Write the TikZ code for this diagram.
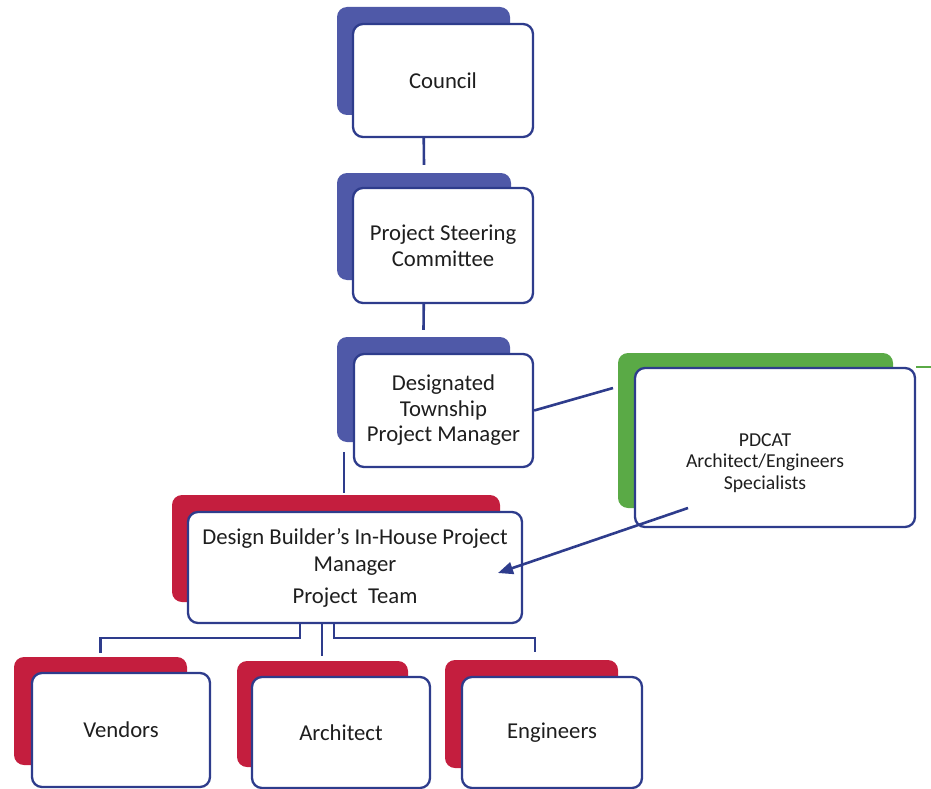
\documentclass[tikz,border=0pt]{standalone}
\usepackage{fontspec}
\setmainfont{Carlito}
\usetikzlibrary{arrows.meta}
\definecolor{bblue}{HTML}{4F59A8}
\definecolor{bred}{HTML}{C41E3E}
\definecolor{bgreen}{HTML}{5AAA46}
\definecolor{navy}{HTML}{2E3C8C}
\definecolor{txt}{HTML}{1E1E1E}
\tikzset{
  backbox/.style={rounded corners=10pt, inner sep=0pt, draw=none},
  frontbox/.style={draw=navy, fill=white, line width=2.3pt, rounded corners=10pt,
    inner sep=0pt, align=center, text=txt, font=\fontsize{22.7}{26}\selectfont},
  conn/.style={draw=navy, line width=2.6pt},
}
\begin{document}
\begin{tikzpicture}[x=1pt,y=-1pt]
\useasboundingbox (0,0) rectangle (931,789);
% back boxes
\node[backbox, fill=bblue, minimum width=173pt, minimum height=108pt] (cb) at (423.5,61) {};
\node[backbox, fill=bblue, minimum width=174pt, minimum height=107pt] (sb) at (424,226.5) {};
\node[backbox, fill=bblue, minimum width=173pt, minimum height=105pt] (tb) at (423.5,389.5) {};
\node[backbox, fill=bgreen, minimum width=275pt, minimum height=155pt] (pb) at (755.5,430.5) {};
\node[backbox, fill=bred, minimum width=328pt, minimum height=107pt] (db) at (336,548.5) {};
\node[backbox, fill=bred, minimum width=173pt, minimum height=108pt] (vb) at (100.5,711) {};
\node[backbox, fill=bred, minimum width=171pt, minimum height=106pt] (ab) at (322.5,714) {};
\node[backbox, fill=bred, minimum width=173pt, minimum height=108pt] (eb) at (531.5,714) {};
% connectors behind the front boxes
\draw[conn] (cb.south) -- ([yshift=8pt]sb.north);
\draw[conn] (sb.south) -- ([yshift=7pt]tb.north);
\draw[conn] ([xshift=7pt,yshift=-10pt]tb.south west) -- ([xshift=7pt,yshift=2pt]tb.south west |- db.north);
% front boxes
\node[frontbox, minimum width=180pt, minimum height=113pt] (cf) at (443,80.5) {Council};
\node[frontbox, minimum width=180pt, minimum height=115pt] (sf) at (443,245.5) {Project Steering\\Committee};
\node[frontbox, minimum width=179pt, minimum height=113pt, font=\fontsize{22.7}{25.5}\selectfont] (tf) at (443.5,410.5) {Designated\\Township\\Project Manager};
\node[frontbox, minimum width=280pt, minimum height=159pt] (pf) at (775,447.5) {};
\node[align=center, text=txt, font=\fontsize{19.7}{21.5}\selectfont, inner sep=0pt] (pt) at (765,463) {PDCAT\\Architect/Engineers\\Specialists};
\node[frontbox, minimum width=334pt, minimum height=111pt, font=\fontsize{22.7}{27}\selectfont] (df) at (355,567.5) {Design Builder's In-House Project\\Manager\\[5pt]Project~ Team};
\node[frontbox, minimum width=178pt, minimum height=114pt] (vf) at (121,730) {Vendors};
\node[frontbox, minimum width=178pt, minimum height=111pt] (af) at (341,732.5) {Architect};
\node[frontbox, minimum width=180pt, minimum height=111pt] (ef) at (552,732.5) {Engineers};
% other connectors
\coordinate (pl) at (613,388);
\draw[conn] (tf.east) -- (pl);
\draw[bgreen, line width=1.5pt] (pf.north east) -- ++(16,0);
\coordinate (as) at (688,508);
\coordinate (ae) at (498,573);
\draw[conn, -{Triangle[length=15pt,width=12pt]}] (as) -- (ae);
\coordinate (d1) at ([xshift=-55pt]df.south);
\coordinate (d2) at ([xshift=-33pt]df.south);
\coordinate (d3) at ([xshift=-21pt]df.south);
\draw[conn] (d1) -- ++(0,14) -| ([yshift=4pt]vb.north);
\draw[conn] (d2) -- ([yshift=5pt]ab.north -| d2);
\draw[conn] (d3) -- ++(0,14) -| ([xshift=3.5pt,yshift=8pt]eb.north);
\end{tikzpicture}
\end{document}
